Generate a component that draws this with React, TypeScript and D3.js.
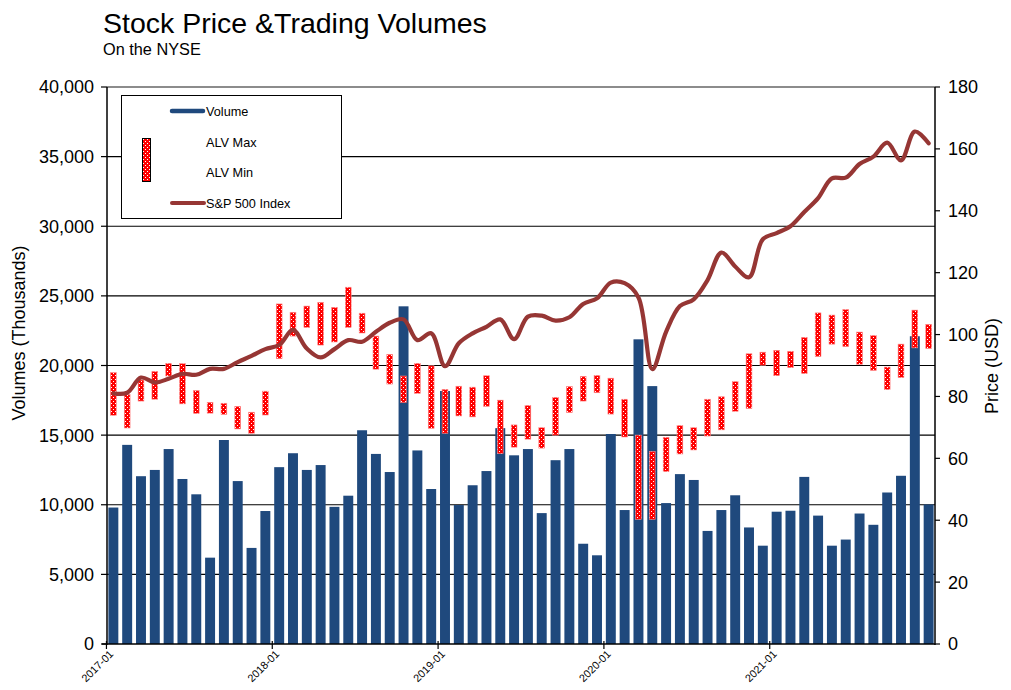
import React, { useEffect, useRef } from "react";
import * as d3 from "d3";

// monthly categories, 2017-01 .. 2021-12
const months = d3
  .timeMonth.range(new Date(2017, 0, 1), new Date(2022, 0, 1))
  .map(d3.timeFormat("%Y-%m"));

const yearTicks = ["2017-01", "2018-01", "2019-01", "2020-01", "2021-01"];
const volumeTicks = [0, 5000, 10000, 15000, 20000, 25000, 30000, 35000, 40000];
const priceTicks = [0, 20, 40, 60, 80, 100, 120, 140, 160, 180];

// trading volume (thousands)
const volume = [
  9800, 14300, 12050, 12500, 14000, 11850, 10750, 6200, 14650, 11700, 6900, 9550,
  12700, 13700, 12500, 12850, 9850, 10650, 15350, 13650, 12350, 24250, 13900, 11130,
  18170, 9980, 11400, 12420, 15500, 13550, 14000, 9400, 13200, 14000, 7200, 6370,
  15080, 9620, 21880, 18520, 10120, 12200, 11780, 8120, 9620, 10680, 8370, 7060,
  9500, 9570, 12000, 9220, 7060, 7500, 9370, 8560, 10880, 12080, 22100, 10020,
];

// ALV monthly high / low (USD)
const alvMax = [
  87.7, 80.6, 85.3, 88.1, 90.7, 90.6, 81.9, 78.1, 77.8, 76.8, 74.9, 81.7,
  109.9, 107.2, 109.2, 110.4, 108.8, 115.3, 106.9, 99.5, 93.6, 86.6, 90.7, 89.9,
  82.3, 83.3, 83.0, 86.7, 78.8, 70.8, 77.1, 69.9, 79.7, 83.2, 86.5, 86.8,
  85.9, 79.1, 67.5, 62.2, 66.8, 70.6, 69.9, 79.1, 79.9, 84.8, 93.8, 94.3,
  94.9, 94.6, 99.1, 107.0, 106.3, 108.1, 100.8, 99.7, 89.5, 96.9, 107.9, 103.3,
];
const alvMin = [
  73.9, 69.8, 78.5, 79.1, 86.6, 77.6, 74.5, 74.6, 74.2, 69.5, 68.1, 74.0,
  92.2, 99.5, 102.3, 96.6, 97.6, 102.3, 100.5, 88.8, 84.0, 78.0, 81.0, 69.7,
  68.1, 73.7, 73.4, 76.8, 61.5, 63.6, 66.2, 63.3, 67.5, 74.8, 78.5, 81.2,
  74.3, 66.9, 40.3, 40.3, 55.7, 61.4, 62.7, 67.2, 69.2, 75.2, 76.1, 90.1,
  86.7, 89.3, 87.4, 92.9, 96.9, 96.1, 90.4, 88.4, 82.2, 86.1, 95.7, 95.5,
];

// S&P 500 index (rescaled to price axis)
const sp500 = [
  81.0, 81.2, 86.1, 84.5, 85.7, 87.3, 87.0, 88.9, 88.9, 91.1, 93.1, 95.3,
  96.6, 101.5, 95.5, 92.6, 95.3, 98.2, 97.7, 100.9, 103.8, 104.9, 98.2, 100.4,
  89.8, 97.2, 100.4, 102.5, 104.9, 98.5, 105.8, 106.1, 104.5, 105.6, 109.9, 111.7,
  116.8, 116.6, 112.0, 88.8, 100.9, 109.2, 111.4, 117.6, 126.5, 122.0, 118.5, 130.8,
  132.8, 135.0, 139.6, 144.1, 150.5, 150.7, 155.1, 157.5, 162.0, 156.3, 165.6, 161.8,
];

const W = 1011;
const H = 690;
const FONT = "'Liberation Sans', Arial, sans-serif";
const BLUE = "#1F497D";
const BROWN = "#963634";

export default function App() {
  const svgRef = useRef<SVGSVGElement>(null);

  useEffect(() => {
    if (!svgRef.current) return;
    const svg = d3.select(svgRef.current);
    svg.selectAll("*").remove();

    const left = 107, right = 935, top = 87, bottom = 644;

    const x = d3.scaleBand<string>().domain(months).range([left, right])
      .paddingInner(0.28).paddingOuter(0.1);
    const yVol = d3.scaleLinear().domain([0, 40000]).range([bottom, top]);
    const yPrice = d3.scaleLinear().domain([0, 180]).range([bottom, top]);
    const tickX = (m: string) => (x(m) as number) - (x.step() * x.paddingInner()) / 2;

    // dotted red fill for the high-low bars
    const defs = svg.append("defs");
    const pat = defs.append("pattern").attr("id", "alv-dots")
      .attr("patternUnits", "userSpaceOnUse").attr("width", 4).attr("height", 4);
    pat.append("rect").attr("width", 4).attr("height", 4).attr("fill", "#ff0000");
    pat.append("rect").attr("x", 1).attr("y", 1).attr("width", 1).attr("height", 1).attr("fill", "#fff");
    pat.append("rect").attr("x", 3).attr("y", 3).attr("width", 1).attr("height", 1).attr("fill", "#fff");

    // titles
    svg.append("text").attr("x", 103).attr("y", 33).attr("font-size", 28.5)
      .attr("font-family", FONT).text("Stock Price &Trading Volumes");
    svg.append("text").attr("x", 103).attr("y", 55).attr("font-size", 16.3)
      .attr("font-family", FONT).text("On the NYSE");

    // gridlines
    svg.append("g").selectAll("line")
      .data(volumeTicks.filter(v => v > 0))
      .join("line")
      .attr("x1", left).attr("x2", right)
      .attr("y1", d => yVol(d)).attr("y2", d => yVol(d))
      .attr("stroke", d => (d === 40000 ? "#8c8c8c" : "#000"))
      .attr("stroke-width", d => (d === 40000 ? 2.2 : 1.1));

    // volume bars
    svg.append("g").selectAll("rect")
      .data(volume)
      .join("rect")
      .attr("x", (_, i) => x(months[i]) as number)
      .attr("width", x.bandwidth())
      .attr("y", d => yVol(d))
      .attr("height", d => bottom - yVol(d))
      .attr("fill", BLUE);

    // ALV high-low bars
    const hw = 5.8;
    svg.append("g").selectAll("rect")
      .data(alvMax)
      .join("rect")
      .attr("x", (_, i) => (x(months[i]) as number) + x.bandwidth() / 2 - hw / 2)
      .attr("width", hw)
      .attr("y", d => yPrice(d))
      .attr("height", (d, i) => yPrice(alvMin[i]) - yPrice(d))
      .attr("fill", "url(#alv-dots)")
      .attr("stroke", "#ff8c8c")
      .attr("stroke-width", 0.6);

    // S&P line
    const line = d3.line<number>()
      .x((_, i) => (x(months[i]) as number) + x.bandwidth() / 2)
      .y(d => yPrice(d))
      .curve(d3.curveCatmullRom.alpha(0.5));
    svg.append("path").datum(sp500).attr("d", line)
      .attr("fill", "none").attr("stroke", BROWN).attr("stroke-width", 4.2)
      .attr("stroke-linejoin", "round").attr("stroke-linecap", "round");

    // axes lines
    const axis = svg.append("g").attr("stroke", "#000").attr("stroke-width", 1.5);
    axis.append("line").attr("x1", left).attr("x2", left).attr("y1", top).attr("y2", bottom + 1);
    axis.append("line").attr("x1", right).attr("x2", right).attr("y1", top).attr("y2", bottom + 1);
    axis.append("line").attr("x1", left - 5).attr("x2", right).attr("y1", bottom).attr("y2", bottom);

    // left ticks + labels
    const lt = svg.append("g").attr("font-family", FONT).attr("font-size", 18);
    volumeTicks.forEach(v => {
      lt.append("line").attr("x1", left - 6).attr("x2", left).attr("y1", yVol(v)).attr("y2", yVol(v))
        .attr("stroke", "#000").attr("stroke-width", 1.2);
      lt.append("text").attr("x", 94).attr("y", yVol(v)).attr("dy", "0.36em")
        .attr("text-anchor", "end").text(d3.format(",")(v));
    });

    // right ticks + labels
    const rt = svg.append("g").attr("font-family", FONT).attr("font-size", 18);
    priceTicks.forEach(p => {
      rt.append("line").attr("x1", right).attr("x2", right + 5).attr("y1", yPrice(p)).attr("y2", yPrice(p))
        .attr("stroke", "#000").attr("stroke-width", 1.2);
      rt.append("text").attr("x", 948).attr("y", yPrice(p)).attr("dy", "0.36em")
        .attr("text-anchor", "start").text(p);
    });

    // x ticks + rotated labels
    const xt = svg.append("g").attr("font-family", FONT).attr("font-size", 10.8);
    yearTicks.forEach(m => {
      const tx = tickX(m);
      xt.append("line").attr("x1", tx).attr("x2", tx).attr("y1", bottom - 3).attr("y2", bottom + 5)
        .attr("stroke", "#000").attr("stroke-width", 1.2);
      xt.append("text").attr("text-anchor", "end").attr("dy", "0.35em")
        .attr("transform", `translate(${tx + 5},${bottom + 8}) rotate(-45)`)
        .text(m);
    });

    // axis titles
    svg.append("text").attr("font-family", FONT).attr("font-size", 18)
      .attr("text-anchor", "middle")
      .attr("transform", `translate(25,333) rotate(-90)`)
      .text("Volumes (Thousands)");
    svg.append("text").attr("font-family", FONT).attr("font-size", 18)
      .attr("text-anchor", "middle")
      .attr("transform", `translate(998,366) rotate(-90)`)
      .text("Price (USD)");

    // legend
    const lg = svg.append("g").attr("font-family", FONT).attr("font-size", 12.7);
    lg.append("rect").attr("x", 121.5).attr("y", 95.5).attr("width", 220).attr("height", 123)
      .attr("fill", "#fff").attr("stroke", "#000").attr("stroke-width", 1);
    lg.append("line").attr("x1", 172).attr("x2", 203).attr("y1", 111).attr("y2", 111)
      .attr("stroke", BLUE).attr("stroke-width", 4.5).attr("stroke-linecap", "round");
    lg.append("rect").attr("x", 142.5).attr("y", 138.5).attr("width", 8).attr("height", 43)
      .attr("fill", "url(#alv-dots)").attr("stroke", "#000").attr("stroke-width", 1);
    lg.append("line").attr("x1", 172).attr("x2", 204).attr("y1", 203).attr("y2", 203)
      .attr("stroke", BROWN).attr("stroke-width", 4).attr("stroke-linecap", "round");
    const items: [string, number][] = [["Volume", 111], ["ALV Max", 142], ["ALV Min", 172], ["S&P 500 Index", 203]];
    items.forEach(([t, yy]) => {
      lg.append("text").attr("x", 206).attr("y", yy).attr("dy", "0.36em").text(t);
    });
  }, []);

  return (
    <div style={{ position: "absolute", left: 0, top: 0, width: W, height: H, background: "#fff" }}>
      <svg ref={svgRef} width={W} height={H} style={{ display: "block" }} />
    </div>
  );
}
